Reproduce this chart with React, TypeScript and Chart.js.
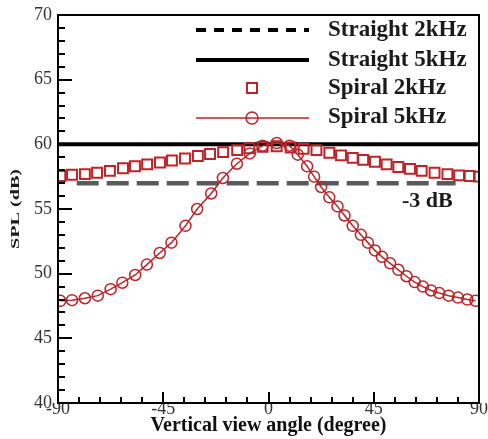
import React, { useEffect, useRef } from 'react';
import { Chart, registerables } from 'chart.js';

Chart.register(...registerables);

// ---- data ----
const spiral5kAngles = [-89, -84, -78.5, -73, -67.5, -62.5, -57, -52, -46.5, -41.5, -35.5, -30.5, -24.5, -19.5, -13.5, -8, -2.5, 3.5, 9, 12.5, 16.5, 19.5, 22.5, 26, 29.5, 32.5, 36, 39.5, 42.5, 45.5, 48.5, 52, 55.5, 59, 62.5, 66, 69.5, 73, 77, 81, 85, 88.5];
const spiral5kSpl = [47.9, 47.95, 48.1, 48.3, 48.8, 49.3, 49.9, 50.7, 51.6, 52.4, 53.7, 55.0, 56.2, 57.4, 58.5, 59.3, 59.9, 60.1, 59.9, 59.2, 58.3, 57.5, 56.7, 55.9, 55.2, 54.5, 53.7, 53.0, 52.4, 51.8, 51.3, 50.8, 50.3, 49.8, 49.35, 49.0, 48.7, 48.5, 48.3, 48.15, 48.0, 47.9];

const spiral2kAngles = [-89, -84, -78.5, -73.3, -67.8, -62.2, -57.1, -51.9, -46.4, -41.3, -35.7, -30.2, -25, -19.4, -13.4, -8.2, -2.5, 3.5, 9.5, 15, 20.5, 26, 31, 36, 40.5, 45.5, 50.5, 55.5, 60.5, 65.5, 71, 76.5, 81.5, 86, 90];
const spiral2kSpl = [57.55, 57.65, 57.7, 57.8, 57.95, 58.15, 58.3, 58.45, 58.6, 58.75, 58.9, 59.1, 59.25, 59.4, 59.55, 59.7, 59.8, 59.85, 59.75, 59.65, 59.55, 59.35, 59.15, 58.95, 58.8, 58.65, 58.45, 58.25, 58.1, 57.95, 57.8, 57.7, 57.6, 57.55, 57.5];

const straightAngles = [-90, 90];
const straight5kSpl = [60, 60];

const refAngles = [-82, 80];
const refSpl = [57, 57];
const refLabel = '-3 dB';

const xTickValues = [-90, -45, 0, 45, 90];
const yTickValues = [40, 45, 50, 55, 60, 65, 70];
const legendLabels = ['Straight 2kHz', 'Straight 5kHz', 'Spiral 2kHz', 'Spiral 5kHz'];
const xTitle = 'Vertical view angle (degree)';
const yTitle = 'SPL (dB)';

const RED = '#bb2429';
const SERIF = '"Liberation Serif", "Times New Roman", serif';

const pts = (xs: number[], ys: number[]) => xs.map((x, i) => ({ x, y: ys[i] }));

const decorPlugin = {
  id: 'decor',
  afterDatasetsDraw(chart: any) {
    const { ctx, chartArea: a, scales } = chart;
    const xs = scales.x;
    const ys = scales.y;
    ctx.save();
    ctx.strokeStyle = '#000';
    ctx.lineWidth = 2;
    ctx.setLineDash([]);
    ctx.strokeRect(a.left, a.top, a.right - a.left, a.bottom - a.top);
    // y ticks (inward)
    for (let v = 40; v <= 70; v += 1) {
      const y = Math.round(ys.getPixelForValue(v));
      const len = v % 5 === 0 ? 14 : 7;
      ctx.beginPath();
      ctx.moveTo(a.left, y);
      ctx.lineTo(a.left + len, y);
      ctx.stroke();
    }
    // x ticks (inward)
    for (let v = -90; v <= 90; v += 9) {
      const x = Math.round(xs.getPixelForValue(v));
      const len = v % 45 === 0 ? 11 : 6;
      ctx.beginPath();
      ctx.moveTo(x, a.bottom);
      ctx.lineTo(x, a.bottom - len);
      ctx.stroke();
    }
    ctx.restore();
  },
  afterDraw(chart: any) {
    const { ctx, chartArea: a } = chart;
    ctx.save();
    // legend
    const lx0 = 196;
    const lx1 = 309;
    const mx = 252;
    const rowY = [30, 60, 88, 118];
    const textY = [30, 60, 88, 117];
    ctx.lineCap = 'butt';
    ctx.strokeStyle = '#000';
    ctx.lineWidth = 4;
    ctx.setLineDash([10, 8]);
    ctx.beginPath();
    ctx.moveTo(lx0, rowY[0]);
    ctx.lineTo(lx1, rowY[0]);
    ctx.stroke();
    ctx.setLineDash([]);
    ctx.beginPath();
    ctx.moveTo(lx0, rowY[1]);
    ctx.lineTo(lx1, rowY[1]);
    ctx.stroke();
    ctx.strokeStyle = RED;
    ctx.lineWidth = 2;
    ctx.strokeRect(mx - 5, rowY[2] - 5, 10, 10);
    ctx.lineWidth = 1.5;
    ctx.beginPath();
    ctx.moveTo(lx0, rowY[3]);
    ctx.lineTo(lx1, rowY[3]);
    ctx.stroke();
    ctx.beginPath();
    ctx.arc(mx, rowY[3], 6, 0, Math.PI * 2);
    ctx.stroke();
    ctx.fillStyle = '#1a1a1a';
    ctx.font = `bold 23px ${SERIF}`;
    ctx.textBaseline = 'middle';
    ctx.textAlign = 'left';
    legendLabels.forEach((t, i) => ctx.fillText(t, 328, textY[i]));

    // -3 dB label
    ctx.font = `bold 22px ${SERIF}`;
    ctx.fillText(refLabel, 402, 201);

    // y title
    ctx.translate(16, (a.top + a.bottom) / 2);
    ctx.rotate(-Math.PI / 2);
    ctx.scale(1.55, 1);
    ctx.textAlign = 'center';
    ctx.font = `bold 13px ${SERIF}`;
    ctx.fillText(yTitle, 0, 0);
    ctx.restore();
  },
};

export default function App() {
  const ref = useRef<HTMLCanvasElement>(null);
  useEffect(() => {
    const chart = new Chart(ref.current as HTMLCanvasElement, {
      type: 'line',
      data: {
        datasets: [
          {
            label: 'Spiral 5kHz',
            data: pts(spiral5kAngles, spiral5kSpl),
            borderColor: RED,
            borderWidth: 1.5,
            pointStyle: 'circle',
            pointRadius: 5.5,
            pointBorderWidth: 1.5,
            pointBorderColor: RED,
            pointBackgroundColor: 'rgba(0,0,0,0)',
            showLine: true,
            tension: 0,
            order: 1,
          },
          {
            label: 'Spiral 2kHz',
            data: pts(spiral2kAngles, spiral2kSpl),
            borderColor: RED,
            showLine: false,
            pointStyle: 'rect',
            pointRadius: 7,
            pointBorderWidth: 2,
            pointBorderColor: RED,
            pointBackgroundColor: 'rgba(0,0,0,0)',
            order: 2,
          },
          {
            label: 'Straight 5kHz',
            data: pts(straightAngles, straight5kSpl),
            borderColor: '#000',
            borderWidth: 4,
            pointRadius: 0,
            order: 3,
          },
          {
            label: refLabel,
            data: pts(refAngles, refSpl),
            borderColor: '#5a5a5a',
            borderWidth: 4.5,
            borderDash: [22, 8],
            pointRadius: 0,
            order: 5,
          },
        ],
      },
      options: {
        responsive: false,
        animation: false,
        layout: { padding: { top: 15, right: 9, left: 0, bottom: 0 } },
        plugins: { legend: { display: false }, tooltip: { enabled: false } },
        scales: {
          x: {
            type: 'linear',
            min: -90,
            max: 90,
            afterBuildTicks: (s: any) => {
              s.ticks = xTickValues.map((v) => ({ value: v }));
            },
            afterFit: (s: any) => {
              s.height = 36;
              s.paddingLeft = 0;
              s.paddingRight = 0;
            },
            grid: { display: false, drawTicks: false },
            border: { display: false },
            ticks: {
              font: { family: SERIF, size: 18 },
              color: '#333',
              padding: -5,
              maxRotation: 0,
              autoSkip: false,
            },
            title: {
              display: true,
              text: xTitle,
              font: { family: SERIF, size: 20, weight: 'bold' },
              color: '#111',
              padding: { top: 0, bottom: 1 },
            },
          },
          y: {
            type: 'linear',
            min: 40,
            max: 70,
            afterBuildTicks: (s: any) => {
              s.ticks = yTickValues.map((v) => ({ value: v }));
            },
            afterFit: (s: any) => {
              s.width = 58;
              s.paddingTop = 0;
              s.paddingBottom = 0;
            },
            grid: { display: false, drawTicks: false },
            border: { display: false },
            ticks: {
              font: { family: SERIF, size: 18 },
              color: '#333',
              padding: 6,
              autoSkip: false,
            },
          },
        },
      },
      plugins: [decorPlugin],
    } as any);
    return () => chart.destroy();
  }, []);
  return (
    <div style={{ position: 'fixed', left: 0, top: 0, width: 488, height: 439, background: '#fff' }}>
      <canvas ref={ref} width={488} height={439} style={{ display: 'block' }} />
    </div>
  );
}
